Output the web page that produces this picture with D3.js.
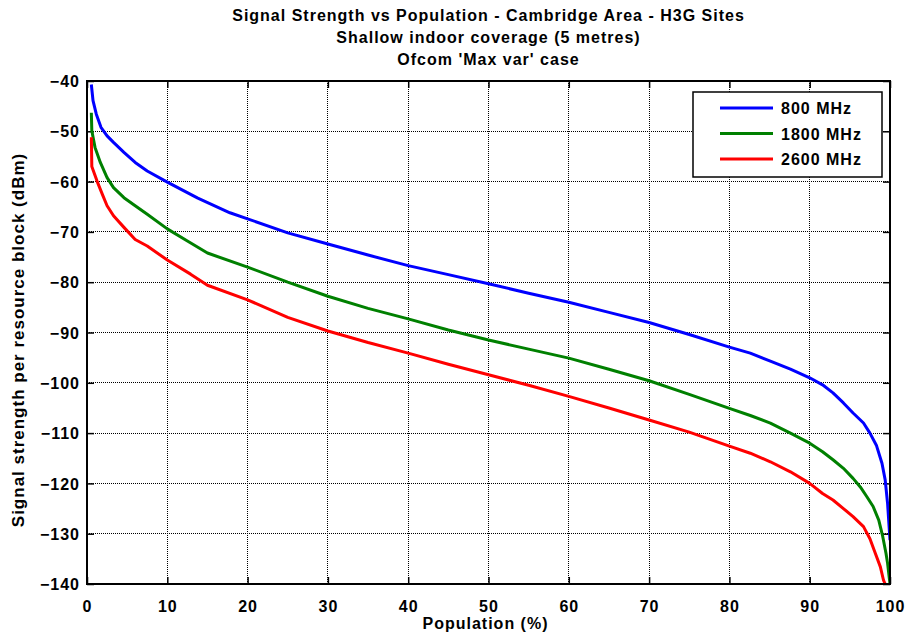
<!DOCTYPE html>
<html>
<head>
<meta charset="utf-8">
<script src="https://cdn.jsdelivr.net/npm/d3@7"></script>
<style>
  html, body { margin: 0; padding: 0; background: #fff; }
  svg { display: block; }
  text { font-family: "Liberation Sans", Arial, Helvetica, sans-serif; font-weight: bold; fill: #000; letter-spacing: 1px; }
</style>
</head>
<body>
<svg id="chart" width="907" height="641"></svg>
<script>
// ---------- data ----------
const titleLines = [
  "Signal Strength vs Population - Cambridge Area - H3G Sites",
  "Shallow indoor coverage (5 metres)",
  "Ofcom 'Max var' case"
];
const xLabel = "Population (%)";
const yLabel = "Signal strength per resource block (dBm)";
const xTicks = [0, 10, 20, 30, 40, 50, 60, 70, 80, 90, 100];
const yTicks = [-40, -50, -60, -70, -80, -90, -100, -110, -120, -130, -140];
const seriesNames = ["800 MHz", "1800 MHz", "2600 MHz"];
const seriesColors = ["#0000ff", "#008000", "#ff0000"];

const pop800 = [0.54, 0.75, 1.16, 1.74, 2.5, 3.3, 4.6, 6, 7.5, 10, 13.8, 17.8, 20, 25, 30, 35, 40, 45, 50, 55, 60, 65, 70, 75, 80, 82.6, 85.1, 87.6, 90, 91.6, 92.9, 94.2, 95.4, 96.7, 97.5, 98.3, 99, 99.4, 99.7, 100];
const sig800 = [-40.7, -43.9, -46.6, -49.2, -50.9, -52.2, -54.2, -56.2, -57.9, -60.1, -63.3, -66.2, -67.4, -70.2, -72.4, -74.6, -76.7, -78.5, -80.3, -82.2, -84, -86, -88, -90.4, -92.9, -94.1, -95.7, -97.3, -99, -100.4, -102, -104, -106, -108, -110, -112.4, -116, -119.3, -124, -131.3];

const pop1800 = [0.54, 0.6, 1, 1.66, 2.5, 3.3, 4.6, 6, 7.5, 10, 12.4, 15, 20, 25, 30, 35, 40, 45, 50, 55, 60, 65, 70, 75, 80, 82.6, 85.1, 87.6, 90, 91.6, 92.9, 94.2, 95.4, 96.3, 97.1, 97.9, 98.6, 99.1, 99.5, 99.7, 100];
const sig1800 = [-46.3, -49.9, -53.2, -56.2, -59.2, -61.2, -63.2, -64.8, -66.5, -69.4, -71.7, -74.2, -77, -80, -82.8, -85.2, -87.3, -89.5, -91.5, -93.3, -95.1, -97.3, -99.6, -102.3, -105.1, -106.5, -108, -110, -112, -113.7, -115.3, -117, -119, -120.7, -122.6, -124.6, -127.3, -130.6, -133.9, -135.9, -140];

const pop2600 = [0.54, 0.6, 1.25, 1.9, 2.5, 3.3, 4.6, 6, 7.5, 10, 12.9, 15, 20, 25, 30, 35, 40, 45, 50, 55, 60, 65, 70, 75, 80, 82.6, 85.1, 87.6, 90, 91.6, 92.9, 94.2, 95.4, 96.7, 97.5, 98.1, 98.8, 99.2, 99.4];
const sig2600 = [-51.2, -57, -59.9, -62.5, -64.8, -66.8, -69.1, -71.5, -72.8, -75.6, -78.4, -80.6, -83.5, -87, -89.7, -92, -94.1, -96.3, -98.4, -100.5, -102.7, -105, -107.4, -109.8, -112.6, -114, -115.7, -117.7, -120, -122, -123.3, -125, -126.6, -128.6, -131, -133.6, -136.6, -139.3, -140];

const seriesPop = [pop800, pop1800, pop2600];
const seriesSig = [sig800, sig1800, sig2600];

// ---------- layout ----------
const svg = d3.select("#chart");
const L = 87, R = 890, T = 81, B = 584;
const x = d3.scaleLinear().domain([0, 100]).range([L, R]);
const y = d3.scaleLinear().domain([-140, -40]).range([B, T]);

svg.append("rect").attr("width", 907).attr("height", 641).attr("fill", "#fff");

// grid
const grid = svg.append("g");
grid.selectAll("line.gx").data(xTicks.slice(1, -1)).enter().append("line")
  .attr("x1", d => x(d)).attr("x2", d => x(d)).attr("y1", T).attr("y2", B)
  .attr("stroke", "#000").attr("stroke-width", 1).attr("stroke-dasharray", "1,1").attr("shape-rendering", "crispEdges");
grid.selectAll("line.gy").data(yTicks.slice(1, -1)).enter().append("line")
  .attr("y1", d => y(d)).attr("y2", d => y(d)).attr("x1", L).attr("x2", R)
  .attr("stroke", "#000").attr("stroke-width", 1).attr("stroke-dasharray", "1,1").attr("shape-rendering", "crispEdges");

// axes (ticks inside on all four sides)
const tk = 7;
const axB = svg.append("g").attr("transform", `translate(0,${B})`)
  .call(d3.axisBottom(x).tickValues(xTicks).tickSize(-tk).tickPadding(tk + 10));
const axT = svg.append("g").attr("transform", `translate(0,${T})`)
  .call(d3.axisTop(x).tickValues(xTicks).tickSize(-tk).tickFormat(""));
const axL = svg.append("g").attr("transform", `translate(${L},0)`)
  .call(d3.axisLeft(y).tickValues(yTicks).tickSize(-tk).tickPadding(8).tickFormat(d3.format("d")));
const axR = svg.append("g").attr("transform", `translate(${R},0)`)
  .call(d3.axisRight(y).tickValues(yTicks).tickSize(-tk).tickFormat(""));
[axB, axT, axL, axR].forEach(a => {
  a.select(".domain").remove();
  a.selectAll(".tick line").attr("stroke", "#000").attr("stroke-width", 1.5);
  a.selectAll("text").attr("font-size", 16).attr("fill", "#000")
    .attr("font-family", "'Liberation Sans', Arial, sans-serif").attr("font-weight", "bold");
});
axB.selectAll("text").attr("dy", "0.71em");
axL.selectAll("text").attr("x", -7).attr("dy", "0.35em");

// series lines
svg.append("clipPath").attr("id", "clip").append("rect")
  .attr("x", L).attr("y", T - 1).attr("width", R - L).attr("height", B - T + 2);
const lineGen = d3.line().x(d => x(d[0])).y(d => y(d[1]));
const linesG = svg.append("g").attr("clip-path", "url(#clip)");
seriesNames.forEach((name, i) => {
  const pts = seriesPop[i].map((p, j) => [p, seriesSig[i][j]]);
  linesG.append("path").datum(pts).attr("d", lineGen)
    .attr("fill", "none").attr("stroke", seriesColors[i]).attr("stroke-width", 3)
    .attr("stroke-linejoin", "round");
});

// frame
svg.append("rect").attr("x", L).attr("y", T).attr("width", R - L).attr("height", B - T)
  .attr("fill", "none").attr("stroke", "#000").attr("stroke-width", 2);

// legend
const lg = svg.append("g");
lg.append("rect").attr("x", 693).attr("y", 92).attr("width", 189).attr("height", 85)
  .attr("fill", "#fff").attr("stroke", "#000").attr("stroke-width", 1.5);
seriesNames.forEach((name, i) => {
  const ly = 108 + i * 25.5;
  lg.append("line").attr("x1", 720).attr("x2", 773).attr("y1", ly).attr("y2", ly)
    .attr("stroke", seriesColors[i]).attr("stroke-width", 3);
  lg.append("text").attr("x", 781).attr("y", ly + 6).attr("font-size", 16).text(name);
});

// titles
svg.selectAll("text.title").data(titleLines).enter().append("text")
  .attr("class", "title").attr("x", (L + R) / 2).attr("y", (d, i) => 21 + i * 22)
  .attr("text-anchor", "middle").attr("font-size", 16).text(d => d);

// axis labels
svg.append("text").attr("x", (L + R) / 2 - 3).attr("y", 629).attr("text-anchor", "middle")
  .attr("font-size", 16).text(xLabel);
svg.append("text").attr("transform", `translate(24,${340}) rotate(-90)`).attr("text-anchor", "middle")
  .attr("font-size", 17).text(yLabel);
</script>
</body>
</html>
